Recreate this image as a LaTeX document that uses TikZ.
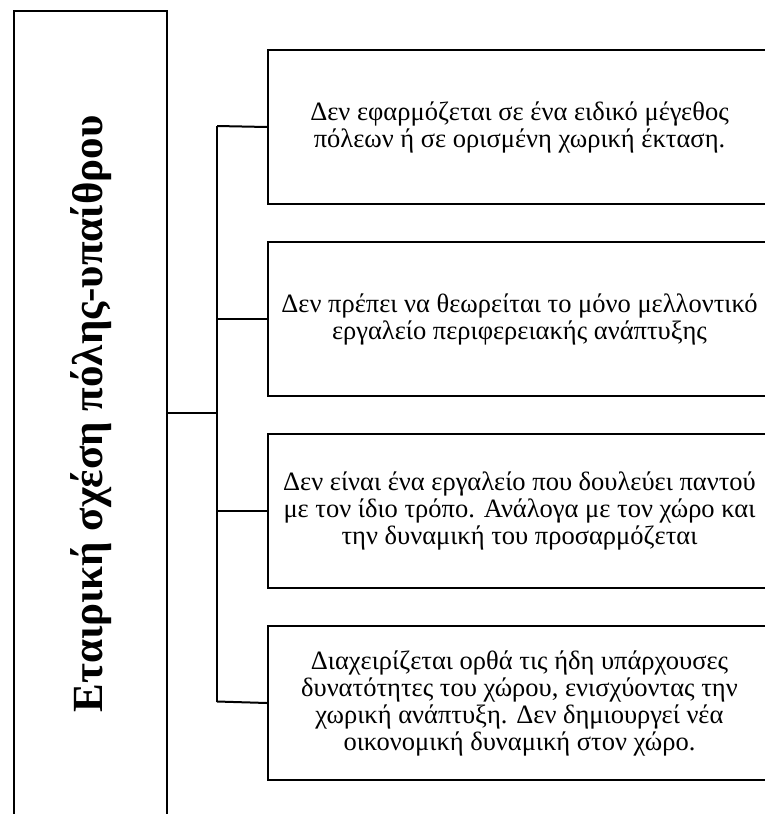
\documentclass[tikz,border=0pt]{standalone}
\usepackage{fontspec}
\setmainfont{Liberation Serif}
\begin{document}
\begin{tikzpicture}[x=1pt,y=-1pt,line width=2pt,
  itembox/.style={draw,minimum width=503pt,minimum height=154pt,anchor=north west,
    inner sep=0pt,align=center,font=\fontsize{26.5}{27}\selectfont},
  titlebox/.style={draw,minimum width=153pt,minimum height=830pt,anchor=north west,inner sep=0pt},
  link/.style={line width=2pt}]
\useasboundingbox (0,0) rectangle (764,814);
% left title panel (runs past the lower edge)
\node[titlebox] (title) at (13,10) {};
\node[rotate=90,font=\fontsize{43}{46}\bfseries\selectfont] (titletext) at (91,414) {Εταιρική σχέση πόλης-υπαίθρου};
% item boxes
\node[itembox] (b1) at (267,49) {Δεν εφαρμόζεται σε ένα ειδικό μέγεθος\\πόλεων ή σε ορισμένη χωρική έκταση.};
\node[itembox] (b2) at (267,241) {Δεν πρέπει να θεωρείται το μόνο μελλοντικό\\εργαλείο περιφερειακής ανάπτυξης};
\node[itembox] (b3) at (267,433) {Δεν είναι ένα εργαλείο που δουλεύει παντού\\με τον ίδιο τρόπο. Ανάλογα με τον χώρο και\\την δυναμική του προσαρμόζεται};
\node[itembox] (b4) at (267,625) {Διαχειρίζεται ορθά τις ήδη υπάρχουσες\\δυνατότητες του χώρου, ενισχύοντας την\\χωρική ανάπτυξη. Δεν δημιουργεί νέα\\οικονομική δυναμική στον χώρο.};
% spine
\coordinate (top) at (217,126);
\coordinate (bot) at (217,701.5);
\coordinate (mid) at (217,413);
\draw[link] (top) -- (bot);
\draw[link] (title.east |- mid) -- (mid);
\draw[link] (top) -- (b1.west);
\draw[link] (b2.west -| top) -- (b2.west);
\draw[link] (b3.west -| top) -- (b3.west);
\draw[link] (bot) -- (b4.west);
\end{tikzpicture}
\end{document}
